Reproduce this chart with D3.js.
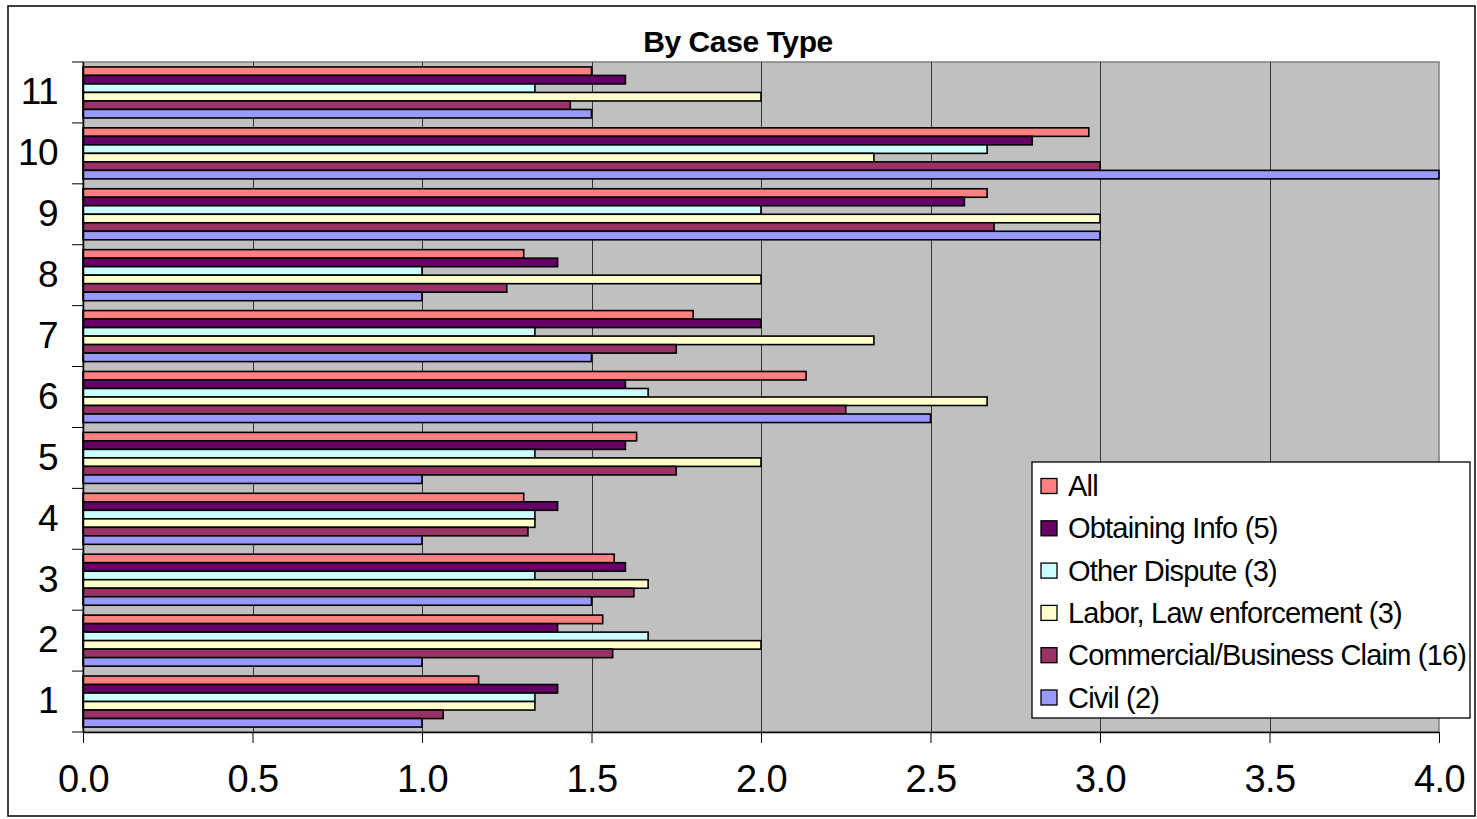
<!DOCTYPE html>
<html>
<head>
<meta charset="utf-8">
<script src="https://cdn.jsdelivr.net/npm/d3@7"></script>
<style>
  html, body { margin: 0; padding: 0; background: #fff; }
  svg { display: block; font-family: "Liberation Sans", Arial, sans-serif; }
</style>
</head>
<body>
<svg id="chart" width="1477" height="819"></svg>
<script>
// Average scores per question, split by case type
const categories = ["1", "2", "3", "4", "5", "6", "7", "8", "9", "10", "11"];
const seriesNames = ["All", "Obtaining Info (5)", "Other Dispute (3)",
  "Labor, Law enforcement (3)", "Commercial/Business Claim (16)", "Civil (2)"];
const seriesColors = ["#FF8080", "#660066", "#CCFFFF", "#FFFFCC", "#993366", "#9999FF"];

const allCases   = [1.167, 1.533, 1.567, 1.30, 1.633, 2.133, 1.80, 1.30, 2.667, 2.967, 1.50];
const obtaining  = [1.40, 1.40, 1.60, 1.40, 1.60, 1.60, 2.00, 1.40, 2.60, 2.80, 1.60];
const otherDisp  = [1.333, 1.667, 1.333, 1.333, 1.333, 1.667, 1.333, 1.00, 2.00, 2.667, 1.333];
const labor      = [1.333, 2.00, 1.667, 1.333, 2.00, 2.667, 2.333, 2.00, 3.00, 2.333, 2.00];
const commercial = [1.0625, 1.5625, 1.625, 1.3125, 1.75, 2.25, 1.75, 1.25, 2.6875, 3.00, 1.4375];
const civil      = [1.00, 1.00, 1.50, 1.00, 1.00, 2.50, 1.50, 1.00, 3.00, 4.00, 1.50];

const xTicks = [0, 0.5, 1.0, 1.5, 2.0, 2.5, 3.0, 3.5, 4.0];

const seriesValues = [allCases, obtaining, otherDisp, labor, commercial, civil];
const series = seriesNames.map((name, i) => ({ name, color: seriesColors[i], values: seriesValues[i] }));

const svg = d3.select("#chart");
const plot = { left: 83, right: 1439, top: 62, bottom: 732 };

// Outer chart frame
svg.append("rect")
  .attr("x", 8).attr("y", 6).attr("width", 1467).attr("height", 810)
  .attr("fill", "#fff").attr("stroke", "#000").attr("stroke-width", 1.5);

const x = d3.scaleLinear().domain([0, 4]).range([plot.left, plot.right]);
// Category 1 at the bottom, 11 at the top
const y = d3.scaleBand().domain(categories.slice().reverse())
  .range([plot.top, plot.bottom]).paddingInner(0).paddingOuter(0);
const ySub = d3.scaleBand().domain(seriesNames)
  .range([0, y.bandwidth()]).paddingInner(0).paddingOuter(0.58);

// Plot area background
svg.append("rect")
  .attr("x", plot.left).attr("y", plot.top)
  .attr("width", plot.right - plot.left).attr("height", plot.bottom - plot.top)
  .attr("fill", "#C0C0C0").attr("stroke", "#808080").attr("stroke-width", 1.5);

// Vertical gridlines
svg.append("g").selectAll("line")
  .data(xTicks.filter(t => t > 0 && t < 4))
  .join("line")
  .attr("x1", d => Math.round(x(d)) + 0.5).attr("x2", d => Math.round(x(d)) + 0.5)
  .attr("y1", plot.top).attr("y2", plot.bottom)
  .attr("stroke", "#333").attr("stroke-width", 1);

// Bars
const groups = svg.append("g").selectAll("g")
  .data(categories)
  .join("g")
  .attr("transform", d => `translate(0,${y(d)})`);

groups.selectAll("rect")
  .data((c, ci) => series.map(s => ({ s, v: s.values[ci] })))
  .join("rect")
  .attr("x", x(0))
  .attr("y", d => ySub(d.s.name))
  .attr("width", d => x(d.v) - x(0))
  .attr("height", ySub.bandwidth())
  .attr("fill", d => d.s.color)
  .attr("stroke", "#000")
  .attr("stroke-width", 1.6);

// Y axis (category)
const yAxis = d3.axisLeft(y).tickSize(0).tickPadding(24);
const yAxisG = svg.append("g").attr("transform", `translate(${plot.left},0)`).call(yAxis);
yAxisG.select(".domain").attr("stroke", "#000").attr("stroke-width", 1.5);
yAxisG.selectAll("text")
  .attr("font-size", 37).attr("fill", "#000")
  .attr("font-family", "'Liberation Sans', Arial, sans-serif")
  .attr("letter-spacing", -0.6)
  .attr("x", -25);
// Category boundary tick marks
svg.append("g").selectAll("line")
  .data(d3.range(categories.length + 1))
  .join("line")
  .attr("x1", plot.left - 11).attr("x2", plot.left)
  .attr("y1", i => plot.top + i * y.step()).attr("y2", i => plot.top + i * y.step())
  .attr("stroke", "#000").attr("stroke-width", 1);

// X axis (value)
const xAxis = d3.axisBottom(x).tickValues(xTicks).tickFormat(d3.format(".1f"))
  .tickSize(11).tickPadding(22).tickSizeOuter(0);
const xAxisG = svg.append("g").attr("transform", `translate(0,${plot.bottom})`).call(xAxis);
xAxisG.select(".domain").attr("stroke", "#000").attr("stroke-width", 1.5);
xAxisG.selectAll(".tick line").attr("stroke", "#000");
xAxisG.selectAll("text")
  .attr("font-size", 38).attr("fill", "#000")
  .attr("font-family", "'Liberation Sans', Arial, sans-serif")
  .attr("letter-spacing", -0.6);

// Title
svg.append("text")
  .attr("x", (plot.left + plot.right) / 2 - 23).attr("y", 52)
  .attr("text-anchor", "middle")
  .attr("font-size", 30).attr("font-weight", "bold")
  .attr("letter-spacing", -0.4)
  .text("By Case Type");

// Legend
const legend = svg.append("g").attr("transform", "translate(1032,462)");
legend.append("rect")
  .attr("width", 438).attr("height", 256)
  .attr("fill", "#fff").attr("stroke", "#000").attr("stroke-width", 1.3);
const items = legend.selectAll("g.item")
  .data(series)
  .join("g")
  .attr("class", "item")
  .attr("transform", (d, i) => `translate(0,${24 + i * 42.3})`);
items.append("rect")
  .attr("x", 9).attr("y", -7.5).attr("width", 16).attr("height", 15)
  .attr("fill", d => d.color).attr("stroke", "#000").attr("stroke-width", 1.3);
items.append("text")
  .attr("x", 36).attr("y", 10)
  .attr("font-size", 29).attr("letter-spacing", -0.8)
  .text(d => d.name);
</script>
</body>
</html>
